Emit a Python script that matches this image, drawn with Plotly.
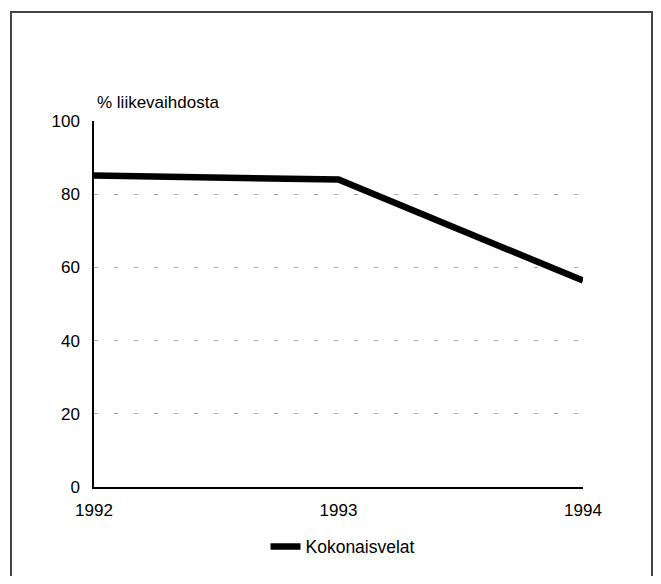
import plotly.graph_objects as go

years = [1992, 1993, 1994]
kokonaisvelat = [85.1, 84.0, 56.4]
y_ticks = [0, 20, 40, 60, 80, 100]
x_ticks = [1992, 1993, 1994]
series_name = "Kokonaisvelat"
y_title = "% liikevaihdosta"

# page body has an 8px margin; figure coordinates = page coordinates - 8
OFF = 8
W, H = 645, 568
L, T = 94 - OFF, 121 - OFF
R = W - (583 - OFF)
B = H - (490 - OFF)
pw, ph = W - L - R, H - T - B

def px(xp):
    return (xp - OFF - L) / pw

def py(yp):
    return (H - B - (yp - OFF)) / ph

fig = go.Figure()
fig.add_trace(go.Scatter(
    x=years, y=kokonaisvelat, mode="lines", name=series_name,
    line=dict(color="black", width=6.5),
))

fam = "Liberation Sans, Arial, sans-serif"
font = dict(family=fam, size=17, color="black")

fig.update_layout(
    width=W, height=H,
    margin=dict(l=L, r=R, t=T, b=B),
    paper_bgcolor="white", plot_bgcolor="white",
    font=font,
    showlegend=True,
    legend=dict(orientation="h", x=px(343), xanchor="center", y=py(550), yanchor="middle",
                font=dict(family=fam, size=17.5, color="black"),
                itemwidth=30, bgcolor="rgba(0,0,0,0)"),
    xaxis=dict(range=[1992, 1994], tickvals=x_ticks, ticktext=[str(v) for v in x_ticks],
               showgrid=False, zeroline=False, showline=True, linecolor="black", linewidth=1.5,
               ticks="", ticklabelstandoff=7, tickfont=font),
    yaxis=dict(range=[0, 100], tickvals=y_ticks, showgrid=True, gridcolor="#a8a8a8",
               griddash="4px,16px", gridwidth=1, zeroline=False, showline=True,
               linecolor="black", linewidth=1.5, ticks="", ticklabelstandoff=9, tickfont=font),
    annotations=[dict(x=px(95), y=py(114), xref="paper", yref="paper", xanchor="left", yanchor="bottom",
                      text=y_title, showarrow=False,
                      font=dict(family=fam, size=17, color="black"))],
    shapes=[dict(type="path", xref="paper", yref="paper",
                 path="M %f %f L %f %f L %f %f L %f %f" % (px(11), py(600), px(11), py(11),
                                                          px(652), py(11), px(652), py(600)),
                 line=dict(color="#444444", width=2), layer="below")],
)

fig.write_html("out.html")
